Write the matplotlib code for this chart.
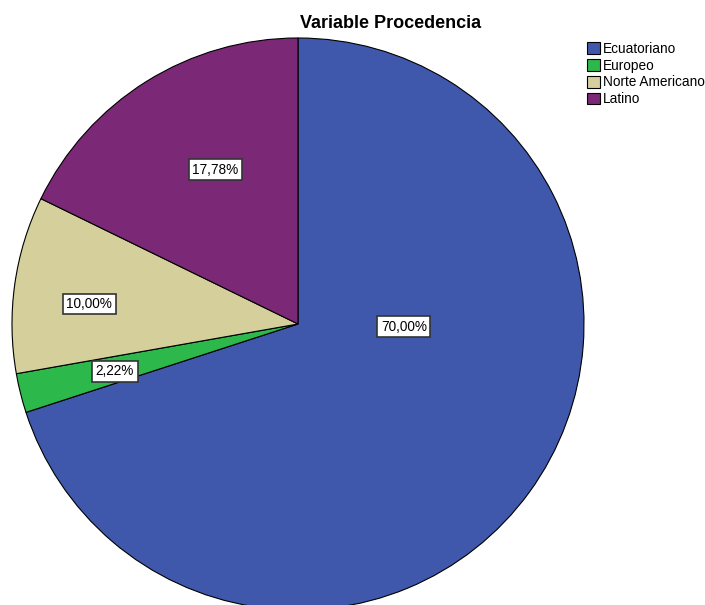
import numpy as np
import matplotlib
matplotlib.use("Agg")
import matplotlib.pyplot as plt

plt.rcParams['font.family'] = ['Liberation Sans', 'DejaVu Sans']

# Datos del grafico
categorias = ['Ecuatoriano', 'Europeo', 'Norte Americano', 'Latino']
porcentajes = [70.00, 2.22, 10.00, 17.78]
colores = ['#3F58AB', '#2DB84B', '#D5D09B', '#7B2877']
# posiciones de las etiquetas (radio unidad)
pos_etiquetas = [(0.37, -0.01), (-0.64, -0.165), (-0.73, 0.07), (-0.29, 0.54)]

fig = plt.figure(figsize=(7.05, 6.05), dpi=100)
ax = fig.add_axes([12 / 705, -5 / 605, 572 / 705, 572 / 605])

wedges, _ = ax.pie(porcentajes, colors=colores, startangle=90, counterclock=False,
                   radius=1.0, wedgeprops=dict(edgecolor='black', linewidth=0.8))
ax.set_xlim(-1, 1)
ax.set_ylim(-1, 1)
ax.set_aspect('equal')
ax.axis('off')

for p, (x, y) in zip(porcentajes, pos_etiquetas):
    ax.text(x, y, f"{p:.2f}%".replace('.', ','), ha='center', va='center', fontsize=9.8,
            bbox=dict(boxstyle='square,pad=0.25', facecolor='white', edgecolor='#333333', linewidth=1.2))

fig.text(391 / 705, 1 - 23 / 605, 'Variable Procedencia', ha='center', va='center',
         fontsize=13, fontweight='bold')

fig.legend(wedges, categorias, loc='upper left', bbox_to_anchor=(587 / 705, 1 - 42 / 605),
           frameon=False, fontsize=9.8, handlelength=0.95, handleheight=0.95,
           handletextpad=0.2, labelspacing=0.2, borderaxespad=0, borderpad=0)

fig.savefig('out.png', dpi=100)
